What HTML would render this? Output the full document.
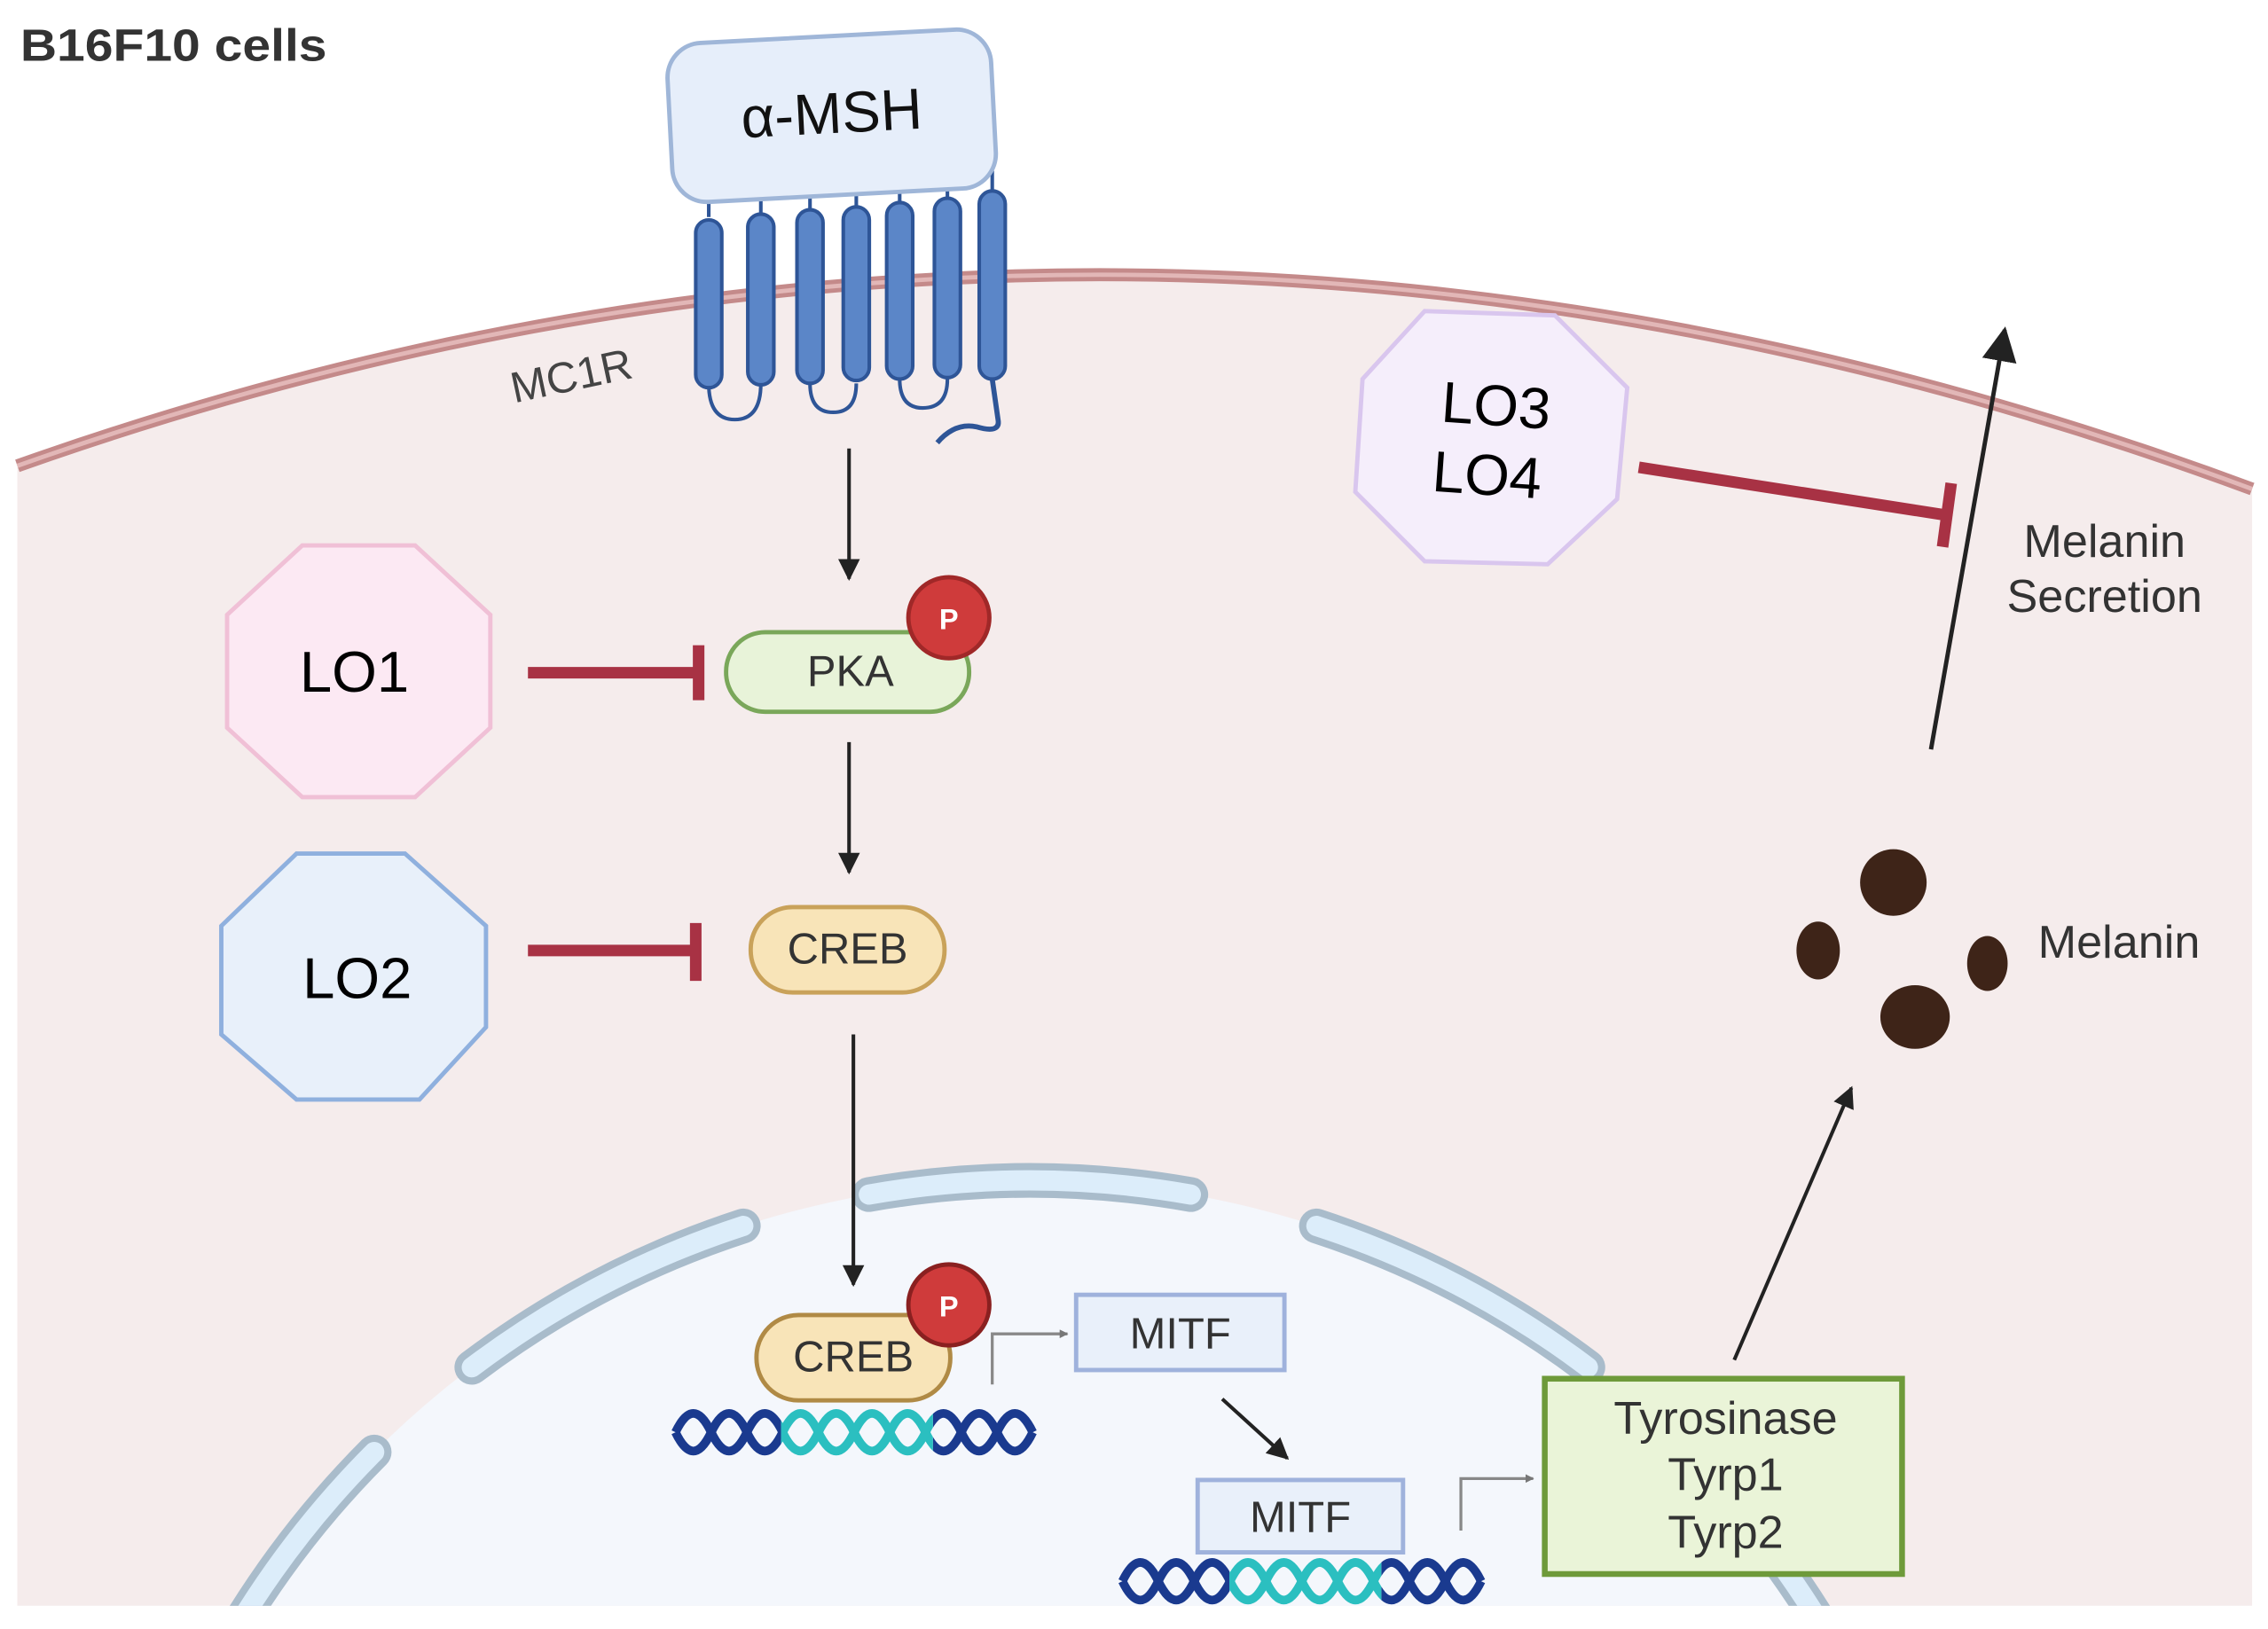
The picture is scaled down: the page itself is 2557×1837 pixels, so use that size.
<!DOCTYPE html>
<html><head><meta charset="utf-8"><style>
html,body{margin:0;padding:0;background:#fff;width:2557px;height:1837px;overflow:hidden;}
svg{display:block;}
text{font-family:"Liberation Sans",Arial,sans-serif;}
</style></head><body>
<svg width="2557" height="1837" viewBox="0 0 1568 1126" preserveAspectRatio="none" xmlns="http://www.w3.org/2000/svg">
<defs>
<clipPath id="cell"><rect x="0" y="0" width="1568" height="1110"/></clipPath>
<marker id="ah" viewBox="0 0 10 10" refX="9" refY="5" markerWidth="6" markerHeight="6" orient="auto"><path d="M0,0 L10,5 L0,10 Z" fill="#222"/></marker>
<marker id="ahb" viewBox="0 0 10 10" refX="9" refY="5" markerWidth="8" markerHeight="8" orient="auto"><path d="M0,0 L10,5 L0,10 Z" fill="#222"/></marker>
<marker id="ahs" viewBox="0 0 10 10" refX="9" refY="5" markerWidth="3" markerHeight="3" orient="auto"><path d="M0,0 L10,5 L0,10 Z" fill="#777"/></marker>
<clipPath id="d1mid"><rect x="540" y="960" width="105" height="60"/></clipPath>
<clipPath id="d1end"><rect x="440" y="960" width="100" height="60"/><rect x="645" y="960" width="100" height="60"/></clipPath>
<clipPath id="d2mid"><rect x="850" y="1065" width="105" height="60"/></clipPath>
<clipPath id="d2end"><rect x="750" y="1065" width="100" height="60"/><rect x="955" y="1065" width="100" height="60"/></clipPath>
</defs>
<rect width="1568" height="1126" fill="#fff"/>
<text x="14" y="42" font-size="31" font-weight="bold" fill="#333" textLength="212" lengthAdjust="spacingAndGlyphs">B16F10 cells</text>
<g clip-path="url(#cell)">
<path d="M12,322 Q780,50 1557,338 L1557,1110 L12,1110 Z" fill="#f5ecec"/>
<path d="M12,322 Q780,50 1557,338" fill="none" stroke="#c48a8a" stroke-width="9"/>
<path d="M12,322 Q780,50 1557,338" fill="none" stroke="#e2b7b7" stroke-width="3"/>
<circle cx="712" cy="1457" r="641" fill="#f4f7fc"/>
<g fill="none" stroke-linecap="round">
<g stroke="#a9bccb" stroke-width="24">
<path d="M600.7,825.7 A641,641 0 0 1 823.3,825.7"/>
<path d="M326.2,945.1 A641,641 0 0 1 513.9,847.4"/>
<path d="M910.1,847.4 A641,641 0 0 1 1097.8,945.1"/>
<path d="M168.4,1117.3 A641,641 0 0 1 258.7,1003.7"/>
<path d="M1223.9,1071.2 A641,641 0 0 1 1292.9,1186"/>
</g>
<g stroke="#dcedfa" stroke-width="14">
<path d="M600.7,825.7 A641,641 0 0 1 823.3,825.7"/>
<path d="M326.2,945.1 A641,641 0 0 1 513.9,847.4"/>
<path d="M910.1,847.4 A641,641 0 0 1 1097.8,945.1"/>
<path d="M168.4,1117.3 A641,641 0 0 1 258.7,1003.7"/>
<path d="M1223.9,1071.2 A641,641 0 0 1 1292.9,1186"/>
</g>
</g>
</g>
<!-- receptor -->
<g stroke="#2e5597" stroke-width="2.5" fill="none">
<path d="M490,150 L490,138 M526,150 L526,135 M560,150 L560,133 M592,150 L592,131 M622,148 L622,129 M655,146 L655,127 M686,140 L686,118"/>
<path d="M490,265 Q490,290 508,290 Q526,290 526,265"/>
<path d="M560,265 Q560,285 576,285 Q592,285 592,265"/>
<path d="M622,262 Q622,282 638,282 Q655,282 655,262"/>
<path d="M686,262 L690,290 Q692,300 675,295 Q660,292 648,306" stroke-width="3.5"/>
</g>
<g fill="#5b86c8" stroke="#2e5597" stroke-width="2.5">
<rect x="481" y="152" width="18" height="116" rx="9"/>
<rect x="517" y="148" width="18" height="118" rx="9"/>
<rect x="551" y="145" width="18" height="120" rx="9"/>
<rect x="583" y="143" width="18" height="120" rx="9"/>
<rect x="613" y="140" width="18" height="122" rx="9"/>
<rect x="646" y="137" width="18" height="124" rx="9"/>
<rect x="677" y="132" width="18" height="130" rx="9"/>
</g>
<g transform="rotate(-3 575 80)">
<rect x="463" y="25" width="224" height="110" rx="24" fill="#e6eefa" stroke="#9fb6d8" stroke-width="3"/>
</g>
<text x="575" y="92" font-size="40" text-anchor="middle" fill="#111" transform="rotate(-3 575 80)">α-MSH</text>
<text x="395" y="270" font-size="30" text-anchor="middle" fill="#444" transform="rotate(-12 395 260)">MC1R</text>
<!-- arrows -->
<g stroke="#222" stroke-width="2.5" marker-end="url(#ah)">
<line x1="587" y1="310" x2="587" y2="400"/>
<line x1="587" y1="513" x2="587" y2="603"/>
<line x1="590" y1="715" x2="590" y2="888"/>
<line x1="845" y1="967" x2="890" y2="1008"/>
<line x1="1199" y1="940" x2="1280" y2="752"/>
</g>
<line x1="1335" y1="518" x2="1386" y2="228" stroke="#222" stroke-width="3" marker-end="url(#ahb)"/>
<g stroke="#888" stroke-width="2" fill="none" marker-end="url(#ahs)">
<path d="M686,957 L686,922 L738,922"/>
<path d="M1010,1058 L1010,1022 L1060,1022"/>
</g>
<!-- octagons -->
<polygon points="209,377 287,377 339,425 339,503 287,551 209,551 157,503 157,425" fill="#fce9f3" stroke="#f0c0d6" stroke-width="3"/>
<text x="245" y="478" font-size="40" text-anchor="middle" fill="#000">LO1</text>
<polygon points="205,590 280,590 336,640 336,710 290,760 205,760 153,715 153,640" fill="#e8f0fa" stroke="#8fb0de" stroke-width="3"/>
<text x="247" y="690" font-size="40" text-anchor="middle" fill="#000">LO2</text>
<polygon points="985,215 1075,218 1125,268 1118,345 1070,390 985,388 937,340 942,262" fill="#f5eefb" stroke="#d9c6ee" stroke-width="3"/>
<text x="1033" y="294" font-size="40" text-anchor="middle" fill="#000" transform="rotate(4 1033 300)">LO3</text>
<text x="1028" y="342" font-size="40" text-anchor="middle" fill="#000" transform="rotate(4 1028 330)">LO4</text>
<!-- inhibition -->
<g stroke="#a83244" stroke-width="8" fill="none">
<line x1="365" y1="465" x2="483" y2="465"/>
<line x1="483" y1="446" x2="483" y2="484"/>
<line x1="365" y1="657" x2="481" y2="657"/>
<line x1="481" y1="638" x2="481" y2="678"/>
<line x1="1133" y1="323" x2="1345" y2="356"/>
<line x1="1349" y1="334" x2="1343" y2="378"/>
</g>
<!-- PKA -->
<rect x="502" y="437" width="168" height="55" rx="27" fill="#e8f3d9" stroke="#7aa75a" stroke-width="3"/>
<text x="588" y="474" font-size="30" text-anchor="middle" fill="#333">PKA</text>
<circle cx="656" cy="427" r="28" fill="#cf3b3b" stroke="#a02828" stroke-width="3"/>
<text x="656" y="435" font-size="20" text-anchor="middle" fill="#fff" font-weight="bold">P</text>
<!-- CREB -->
<rect x="519" y="627" width="134" height="59" rx="29" fill="#f8e4b8" stroke="#c9a25a" stroke-width="3"/>
<text x="586" y="666" font-size="30" text-anchor="middle" fill="#333">CREB</text>
<!-- CREB-P in nucleus -->
<rect x="523" y="909" width="134" height="59" rx="29" fill="#f8e4b8" stroke="#b08a45" stroke-width="3"/>
<text x="590" y="948" font-size="30" text-anchor="middle" fill="#333">CREB</text>
<circle cx="656" cy="902" r="28" fill="#cf3b3b" stroke="#8a2020" stroke-width="3"/>
<text x="656" y="910" font-size="20" text-anchor="middle" fill="#fff" font-weight="bold">P</text>
<!-- DNA 1 -->
<g fill="none" stroke-width="6">
<g clip-path="url(#d1end)" stroke="#1a3a8f">
<path d="M467,990 q12.35,-26 24.7,0 t24.7,0 t24.7,0 t24.7,0 t24.7,0 t24.7,0 t24.7,0 t24.7,0 t24.7,0 t24.7,0"/>
<path d="M467,990 q12.35,26 24.7,0 t24.7,0 t24.7,0 t24.7,0 t24.7,0 t24.7,0 t24.7,0 t24.7,0 t24.7,0 t24.7,0"/>
</g>
<g clip-path="url(#d1mid)" stroke="#2bbfc0">
<path d="M467,990 q12.35,-26 24.7,0 t24.7,0 t24.7,0 t24.7,0 t24.7,0 t24.7,0 t24.7,0 t24.7,0 t24.7,0 t24.7,0"/>
<path d="M467,990 q12.35,26 24.7,0 t24.7,0 t24.7,0 t24.7,0 t24.7,0 t24.7,0 t24.7,0 t24.7,0 t24.7,0 t24.7,0"/>
</g>
</g>
<!-- DNA 2 -->
<g fill="none" stroke-width="6">
<g clip-path="url(#d2end)" stroke="#1a3a8f">
<path d="M776,1093 q12.4,-26 24.8,0 t24.8,0 t24.8,0 t24.8,0 t24.8,0 t24.8,0 t24.8,0 t24.8,0 t24.8,0 t24.8,0"/>
<path d="M776,1093 q12.4,26 24.8,0 t24.8,0 t24.8,0 t24.8,0 t24.8,0 t24.8,0 t24.8,0 t24.8,0 t24.8,0 t24.8,0"/>
</g>
<g clip-path="url(#d2mid)" stroke="#2bbfc0">
<path d="M776,1093 q12.4,-26 24.8,0 t24.8,0 t24.8,0 t24.8,0 t24.8,0 t24.8,0 t24.8,0 t24.8,0 t24.8,0 t24.8,0"/>
<path d="M776,1093 q12.4,26 24.8,0 t24.8,0 t24.8,0 t24.8,0 t24.8,0 t24.8,0 t24.8,0 t24.8,0 t24.8,0 t24.8,0"/>
</g>
</g>
<!-- MITF -->
<rect x="744" y="895" width="144" height="52" fill="#e9f0fa" stroke="#9fb2dc" stroke-width="3"/>
<text x="816" y="932" font-size="30" text-anchor="middle" fill="#333">MITF</text>
<rect x="828" y="1023" width="142" height="50" fill="#e9f0fa" stroke="#9fb2dc" stroke-width="3"/>
<text x="899" y="1059" font-size="30" text-anchor="middle" fill="#333">MITF</text>
<!-- Tyrosinase -->
<rect x="1068" y="953" width="247" height="135" fill="#eaf4d8" stroke="#6e9a3a" stroke-width="4"/>
<g font-size="32" text-anchor="middle" fill="#333">
<text x="1193" y="991">Tyrosinase</text>
<text x="1193" y="1030">Tyrp1</text>
<text x="1193" y="1070">Tyrp2</text>
</g>
<!-- Melanin -->
<g fill="#3e2418">
<ellipse cx="1309" cy="610" rx="23" ry="23"/>
<ellipse cx="1257" cy="657" rx="15" ry="20"/>
<ellipse cx="1374" cy="666" rx="14" ry="19"/>
<ellipse cx="1324" cy="703" rx="24" ry="22"/>
</g>
<g font-size="32" fill="#333" text-anchor="middle">
<text x="1465" y="662">Melanin</text>
<text x="1455" y="385">Melanin</text>
<text x="1455" y="423">Secretion</text>
</g>
</svg>
</body></html>
